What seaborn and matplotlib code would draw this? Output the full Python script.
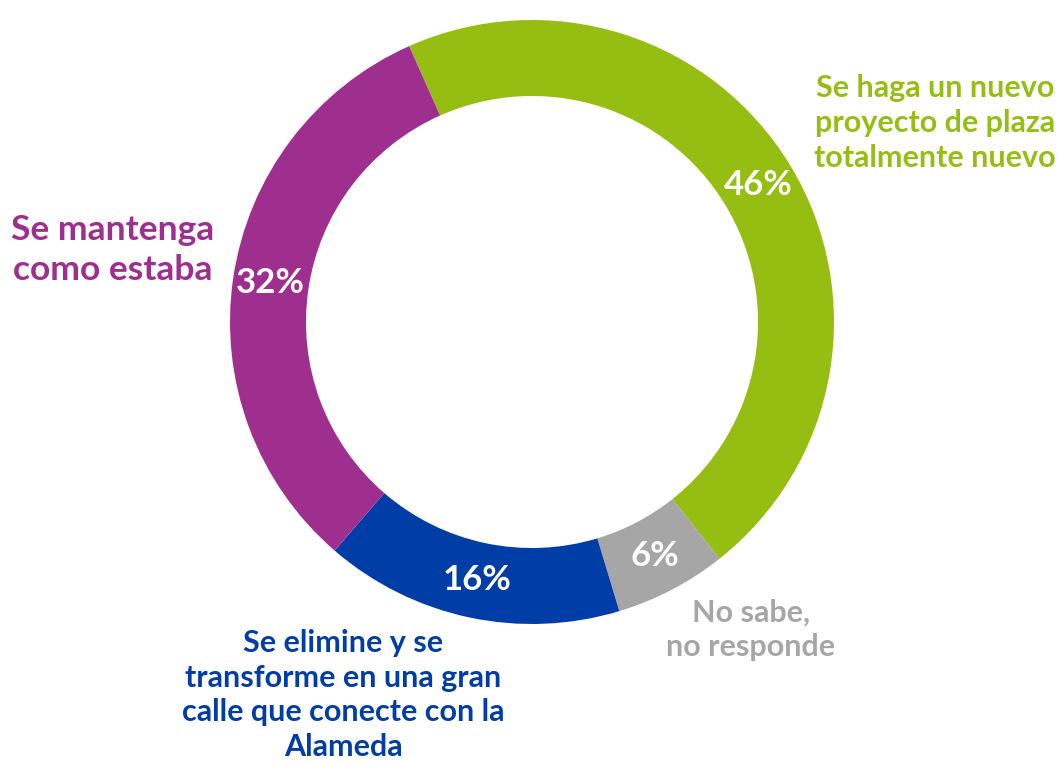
import seaborn as sns
import matplotlib.pyplot as plt

# survey answers, clockwise from the top
categories = ['Se haga un nuevo\nproyecto de plaza\ntotalmente nuevo',
              'No sabe,\nno responde',
              'Se elimine y se\ntransforme en una gran\ncalle que conecte con la\nAlameda',
              'Se mantenga\ncomo estaba']
values = [46, 6, 16, 32]
colors = ['#95BD12', '#A6A6A6', '#003DA6', '#9E2F8E']
label_pos = [(935, 123), (751, 630), (343, 695), (113, 250)]  # pixel coords (y from top)
label_size = [22, 22, 22, 25.5]

sns.set_theme(style='white')
plt.rcParams['font.family'] = ['Lato', 'DejaVu Sans']

W, H = 1061, 766
fig = plt.figure(figsize=(W / 100, H / 100), dpi=100)
ax = fig.add_axes([0, 0, 1, 1])
ax.set_xlim(0, W)
ax.set_ylim(0, H)
ax.set_aspect('equal')
ax.axis('off')

cx, cy, r = 532, H - 322, 302
wedges, _, autotexts = ax.pie(values, colors=colors, startangle=114, counterclock=False,
                              center=(cx, cy), radius=r, autopct='%d%%', pctdistance=0.875,
                              wedgeprops=dict(width=76, linewidth=0),
                              textprops=dict(color='white', fontsize=25, fontweight='bold'))
ax.set_xlim(0, W)
ax.set_ylim(0, H)

for cat, col, (x, y), fs in zip(categories, colors, label_pos, label_size):
    ax.text(x, H - y, cat, color=col, fontsize=fs, fontweight='bold',
            ha='center', va='center', linespacing=1.3)

plt.savefig('out.png', dpi=100)
plt.close()
